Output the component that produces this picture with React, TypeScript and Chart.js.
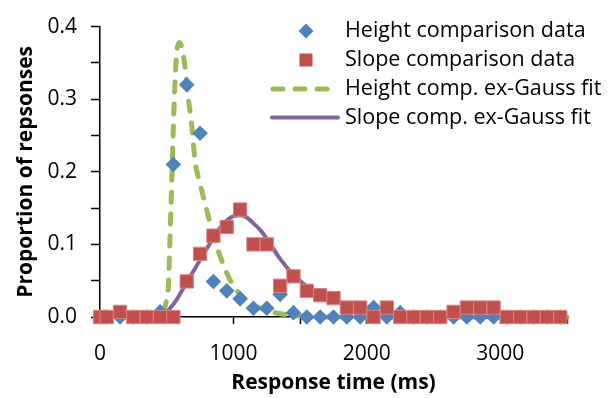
import React, { useEffect, useRef } from "react";
import { Chart, registerables } from "chart.js";

Chart.register(...registerables);

// ---------- data ----------
const binCenters = [
  0, 50, 150, 250, 350, 450, 550, 650, 750, 850, 950, 1050, 1150, 1250, 1350, 1450,
  1550, 1650, 1750, 1850, 1950, 2050, 2150, 2250, 2350, 2450, 2550, 2650, 2750, 2850,
  2950, 3050, 3150, 3250, 3350, 3450,
];
const heightData = [
  0, 0, 0, 0, 0, 0.007, 0.21, 0.32, 0.253, 0.049, 0.036, 0.025, 0.012, 0.012, 0.031, 0.006,
  0, 0, 0, 0, 0, 0.013, 0, 0.006, 0, 0, 0, 0, 0, 0,
  0, 0, 0, 0, 0, 0,
];
const slopeData = [
  0, 0, 0.007, 0, 0, 0, 0, 0.049, 0.087, 0.112, 0.124, 0.148, 0.1, 0.1, 0.043, 0.056,
  0.036, 0.03, 0.026, 0.013, 0.013, 0, 0.013, 0, 0, 0, 0, 0.007, 0.013, 0.013,
  0.013, 0, 0, 0, 0, 0,
];
const heightFitX = [
  0, 400, 450, 475, 495, 513, 525, 538, 550, 570, 595, 632, 658, 688, 712, 745, 788, 850,
  925, 1000, 1125, 1250, 1400, 1550, 1700, 3500,
];
const heightFitY = [
  0, 0, 0.001, 0.009, 0.02, 0.045, 0.112, 0.187, 0.263, 0.352, 0.378, 0.352, 0.307, 0.263,
  0.215, 0.187, 0.156, 0.112, 0.072, 0.043, 0.02, 0.009, 0.003, 0.001, 0, 0,
];
const slopeFitX = [
  0, 420, 460, 488, 530, 575, 600, 700, 800, 900, 1000, 1050, 1100, 1150, 1200, 1250, 1350,
  1450, 1500, 1600, 1700, 1800, 1900, 2000, 2100, 2200, 2400, 2600, 3500,
];
const slopeFitY = [
  0, 0, 0.002, 0.005, 0.013, 0.024, 0.032, 0.063, 0.094, 0.123, 0.139, 0.14, 0.137, 0.129,
  0.12, 0.108, 0.08, 0.058, 0.05, 0.034, 0.027, 0.02, 0.015, 0.01, 0.006, 0.004, 0.001, 0, 0,
];
const seriesLabels = [
  "Height comparison data",
  "Slope comparison data",
  "Height comp. ex-Gauss fit",
  "Slope comp. ex-Gauss fit",
];
const xAxisTitle = "Response time (ms)";
const yAxisTitle = "Proportion of repsonses";

// ---------- styles ----------
const BLUE = "#4F81BD";
const RED = "#C0504D";
const GREEN = "#9BBB59";
const PURPLE = "#8064A2";
const FONT = "'Open Sans', 'Noto Sans', sans-serif";

const legendPlugin = {
  id: "customLegend",
  afterDatasetsDraw(chart: any) {
    const ctx = chart.ctx as CanvasRenderingContext2D;
    const ds = chart.data.datasets;
    const textX = 345;
    const rowsY = [31, 60, 89, 117.5];
    ctx.save();
    const mx = 306;
    // diamond
    ctx.fillStyle = BLUE;
    ctx.beginPath();
    const r = 7.5;
    ctx.moveTo(mx, rowsY[0] - r);
    ctx.lineTo(mx + r, rowsY[0]);
    ctx.lineTo(mx, rowsY[0] + r);
    ctx.lineTo(mx - r, rowsY[0]);
    ctx.closePath();
    ctx.fill();
    // square
    ctx.fillStyle = RED;
    ctx.fillRect(mx - 6.5, rowsY[1] - 6.5, 13, 13);
    // dashed green
    ctx.strokeStyle = GREEN;
    ctx.lineWidth = 5;
    ctx.lineCap = "round";
    ctx.setLineDash([10, 12]);
    ctx.beginPath();
    ctx.moveTo(273, rowsY[2]);
    ctx.lineTo(330, rowsY[2]);
    ctx.stroke();
    // solid purple
    ctx.setLineDash([]);
    ctx.strokeStyle = PURPLE;
    ctx.lineWidth = 4;
    ctx.lineCap = "round";
    ctx.beginPath();
    ctx.moveTo(272, rowsY[3]);
    ctx.lineTo(338, rowsY[3]);
    ctx.stroke();
    // text
    ctx.fillStyle = "#000";
    ctx.font = `21.5px ${FONT}`;
    ctx.textBaseline = "middle";
    ctx.textAlign = "left";
    for (let i = 0; i < 4; i++) {
      ctx.fillText(ds[i].label, textX, rowsY[i]);
    }
    ctx.restore();
  },
};

export default function App() {
  const canvasRef = useRef<HTMLCanvasElement | null>(null);

  useEffect(() => {
    if (!canvasRef.current) return;
    const chart = new Chart(canvasRef.current, {
      type: "scatter",
      data: {
        datasets: [
          {
            label: seriesLabels[0],
            data: binCenters.map((x, i) => ({ x, y: heightData[i] })),
            backgroundColor: BLUE,
            borderColor: BLUE,
            borderWidth: 0,
            pointStyle: "rectRot",
            pointRadius: 7.8,
            showLine: false,
            clip: false,
            order: 1,
          },
          {
            label: seriesLabels[1],
            data: binCenters.map((x, i) => ({ x, y: slopeData[i] })),
            backgroundColor: RED,
            borderColor: "rgba(214,130,128,1)",
            borderWidth: 1,
            pointStyle: "rect",
            pointRadius: 9.4,
            showLine: false,
            clip: false,
            order: 0,
          },
          {
            label: seriesLabels[2],
            data: heightFitX.map((x, i) => ({ x, y: heightFitY[i] })),
            borderColor: GREEN,
            backgroundColor: GREEN,
            borderWidth: 5,
            borderDash: [10, 12],
            borderCapStyle: "round",
            pointRadius: 0,
            showLine: true,
            cubicInterpolationMode: "monotone",
            clip: false,
            order: 2,
          },
          {
            label: seriesLabels[3],
            data: slopeFitX.map((x, i) => ({ x, y: slopeFitY[i] })),
            borderColor: PURPLE,
            backgroundColor: PURPLE,
            borderWidth: 4,
            pointRadius: 0,
            showLine: true,
            cubicInterpolationMode: "monotone",
            clip: false,
            order: 3,
          },
        ],
      },
      options: {
        responsive: false,
        devicePixelRatio: 1,
        animation: false,
        events: [],
        layout: { padding: { top: 17, right: 47, bottom: 0, left: 0 } },
        plugins: {
          legend: { display: false },
          tooltip: { enabled: false },
        },
        scales: {
          x: {
            type: "linear",
            min: 0,
            max: 3500,
            afterFit: (s: any) => {
              s.height = 81;
            },
            grid: {
              display: true,
              drawOnChartArea: false,
              drawTicks: true,
              tickLength: 7,
              color: "#000",
              tickWidth: 1.5,
            },
            border: { display: true, color: "#000", width: 1.5 },
            ticks: {
              stepSize: 500,
              autoSkip: false,
              maxRotation: 0,
              padding: 17,
              color: "#000",
              font: { family: FONT, size: 21 },
              callback: (v: any) => (Number(v) % 1000 === 0 ? String(v) : ""),
            },
            title: {
              display: true,
              text: xAxisTitle,
              color: "#000",
              font: { family: FONT, size: 21, weight: "bold" },
              padding: { top: 0, bottom: 2 },
            },
          },
          y: {
            type: "linear",
            min: 0,
            max: 0.4,
            afterFit: (s: any) => {
              s.width = 100;
            },
            grid: {
              display: true,
              drawOnChartArea: false,
              drawTicks: true,
              tickLength: 9,
              color: "#000",
              tickWidth: 1.5,
            },
            border: { display: true, color: "#000", width: 1.5 },
            ticks: {
              stepSize: 0.05,
              autoSkip: false,
              padding: 14,
              color: "#000",
              font: { family: FONT, size: 21 },
              callback: (v: any) => {
                const t = Number(v) * 10;
                return Math.abs(t - Math.round(t)) < 1e-6 ? Number(v).toFixed(1) : "";
              },
            },
            title: {
              display: true,
              text: yAxisTitle,
              color: "#000",
              font: { family: FONT, size: 21, weight: "bold" },
              padding: { top: 13, bottom: 0 },
            },
          },
        },
      },
      plugins: [legendPlugin],
    } as any);
    return () => chart.destroy();
  }, []);

  return (
    <div style={{ position: "absolute", left: 0, top: 0, width: 614, height: 398, background: "#fff" }}>
      <canvas ref={canvasRef} width={614} height={398} style={{ display: "block", width: 614, height: 398 }} />
    </div>
  );
}
